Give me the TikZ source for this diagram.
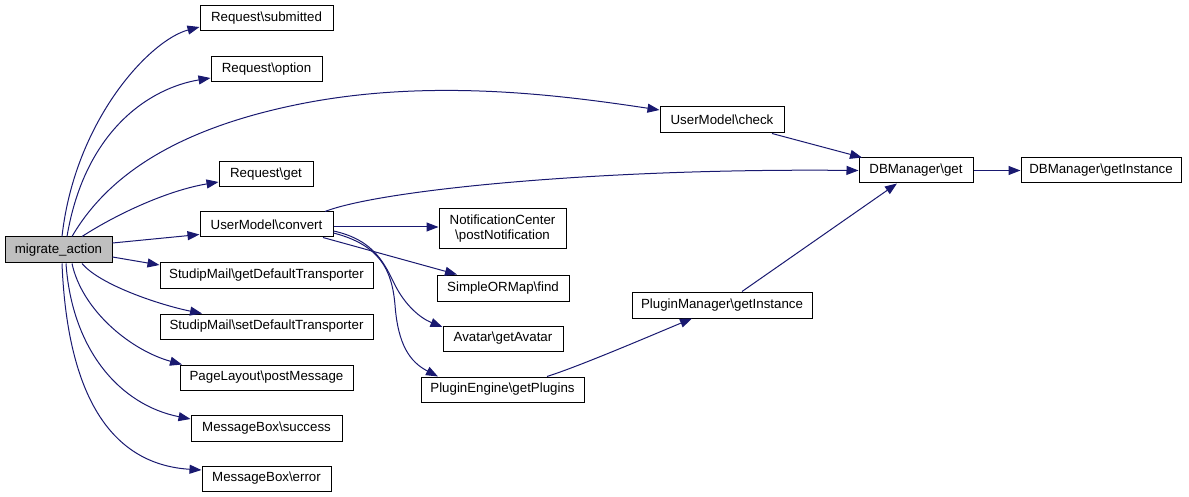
\documentclass[tikz,border=0pt]{standalone}
\usepackage{fontspec}
\setmainfont{Liberation Sans}
\usetikzlibrary{arrows.meta,calc}
\definecolor{edgecol}{HTML}{191970}
\definecolor{rootfill}{HTML}{BFBFBF}
\tikzset{
  fn/.style={draw=black, line width=1pt, fill=white, rectangle, inner sep=0pt,
    minimum height=25pt, align=center, font=\fontsize{13.3}{15}\selectfont},
  rootfn/.style={fn, fill=rootfill},
  call/.style={draw=edgecol, line width=1pt,
    -{Triangle[length=12pt,width=9pt]}, edgecol},
}
\newcommand{\bs}{\textbackslash}
\begin{document}
\begin{tikzpicture}[x=1pt,y=-1pt]
\useasboundingbox (0,0) rectangle (1189,497);
% nodes
\node[rootfn, minimum width=107pt, minimum height=26pt] (mig) at (58.5,250) {migrate\_action};
\node[fn, minimum width=133pt] (sub) at (266.5,18.5) {Request\bs submitted};
\node[fn, minimum width=111pt] (opt) at (266.5,69.5) {Request\bs option};
\node[fn, minimum width=94pt] (rget) at (266,174.5) {Request\bs get};
\node[fn, minimum width=133pt] (conv) at (266.5,224.5) {UserModel\bs convert};
\node[fn, minimum width=213pt] (gdt) at (266.5,275.5) {StudipMail\bs getDefaultTransporter};
\node[fn, minimum width=213pt] (sdt) at (266.5,326.5) {StudipMail\bs setDefaultTransporter};
\node[fn, minimum width=173pt] (plm) at (266.5,377.5) {PageLayout\bs postMessage};
\node[fn, minimum width=151pt, minimum height=26pt] (suc) at (266.5,428) {MessageBox\bs success};
\node[fn, minimum width=129pt] (err) at (266.5,478.5) {MessageBox\bs error};
\node[fn, minimum width=124pt, minimum height=26pt] (chk) at (722,120) {UserModel\bs check};
\node[fn, minimum width=127pt, minimum height=40pt] (noti) at (502.5,229) {NotificationCenter\\\bs postNotification};
\node[fn, minimum width=132pt, minimum height=26pt] (find) at (503,288) {SimpleORMap\bs find};
\node[fn, minimum width=120pt] (ava) at (503,338.5) {Avatar\bs getAvatar};
\node[fn, minimum width=163pt] (pe) at (502.5,389.5) {PluginEngine\bs getPlugins};
\node[fn, minimum width=180pt, minimum height=26pt] (pm) at (722,305) {PluginManager\bs getInstance};
\node[fn, minimum width=114pt] (dbg) at (916,170.5) {DBManager\bs get};
\node[fn, minimum width=160pt] (dbi) at (1101,170.5) {DBManager\bs getInstance};
% edges from migrate_action
\draw[call] ($(mig.north)+(3.5,0)$) .. controls (75,120) and (150,40) .. ($(sub.west)+(0,8.5)$);
\draw[call] ($(mig.north)+(8.5,0)$) .. controls (85,130) and (150,88) .. ($(opt.west)+(0,8.5)$);
\draw[call] ($(mig.north)+(13.5,0)$) .. controls (105,180) and (170,130) .. (300,104)
  .. controls (430,78) and (560,95) .. ($(chk.west)+(0,-10)$);
\draw[call] ($(mig.north)+(23.5,0)$) .. controls (120,212) and (170,190) .. ($(rget.west)+(0,7.5)$);
\draw[call] ($(mig.east)+(0,-7)$) -- ($(conv.west)+(0,10)$);
\draw[call] ($(mig.east)+(0,7)$) -- ($(gdt.west)+(0,-10.5)$);
\draw[call] ($(mig.south)+(23.5,0)$) .. controls (100,285) and (160,305) .. ($(sdt.north)+(-64.5,0)$);
\draw[call] ($(mig.south)+(13.5,0)$) .. controls (82,310) and (130,350) .. ($(plm.north)+(-84.5,0)$);
\draw[call] ($(mig.south)+(7.5,0)$) .. controls (72,350) and (120,405) .. ($(suc.west)+(0,-9)$);
\draw[call] ($(mig.south)+(3.5,0)$) .. controls (68,410) and (120,465) .. ($(err.west)+(0,-8.5)$);
% edges from UserModel\convert
\draw[call] ($(conv.north)+(58.5,0)$) .. controls (380,190) and (600,168) .. (dbg.west);
\draw[call] ($(conv.east)+(0,2.5)$) -- ($(noti.west)+(0,-2)$);
\draw[call] ($(conv.south)+(56.5,0)$) -- ($(find.north)+(-46,0)$);
\draw[call] ($(conv.east)+(0,6.5)$) .. controls (375,240) and (385,265) .. (395,285)
  .. controls (405,305) and (420,318) .. ($(ava.west)+(0,-11.5)$);
\draw[call] ($(conv.east)+(0,8.5)$) .. controls (380,245) and (392,270) .. (395,305)
  .. controls (398,345) and (410,362) .. ($(pe.north)+(-64.5,0)$);
% other edges
\draw[call] ($(chk.south)+(50,0)$) -- ($(dbg.north)+(-54,0)$);
\draw[call] ($(pm.north)+(20,0)$) -- ($(dbg.south)+(-19,0)$);
\draw[call] (dbg.east) -- (dbi.west);
\draw[call] ($(pe.north)+(44.5,0)$) .. controls (580,366) and (650,336) .. ($(pm.south)+(-30,0)$);
\end{tikzpicture}
\end{document}
